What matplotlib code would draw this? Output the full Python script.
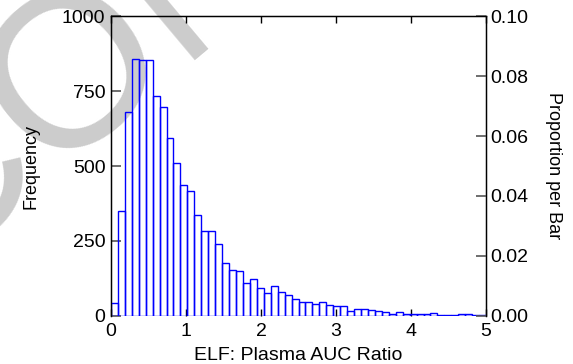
import matplotlib
matplotlib.use("Agg")
import matplotlib.pyplot as plt
import numpy as np
from matplotlib.ticker import FormatStrFormatter

plt.rcParams["font.family"] = ["Liberation Sans", "DejaVu Sans"]

# histogram counts, 54 equal bins spanning 0..5
counts = [44, 351, 681, 857, 853, 853, 733, 696, 594, 511,
          437, 418, 337, 282, 283, 241, 175, 152, 151, 111,
          123, 94, 75, 100, 81, 69, 57, 46, 47, 40,
          45, 35, 32, 32, 16, 24, 23, 19, 15, 13,
          8, 12, 8, 6, 7, 6, 10, 4, 4, 2,
          8, 7, 2, 3]
x_range = (0, 5)
n_total = 10000
x_ticks = [0, 1, 2, 3, 4, 5]
freq_ticks = [0, 250, 500, 750, 1000]
prop_ticks = [0.00, 0.02, 0.04, 0.06, 0.08, 0.10]

edges = np.linspace(x_range[0], x_range[1], len(counts) + 1)
width = edges[1] - edges[0]

fig = plt.figure(figsize=(5.73, 3.64), dpi=100)
fig.patch.set_facecolor("white")

# faint watermark behind the chart (cut by the figure edge, as in the source)
fig.text(0.135, 0.795, "CON", fontsize=158, color="#cccccc", rotation=40,
         ha="center", va="center", zorder=-10)

ax = fig.add_axes([0.1937, 0.1319, 0.6545, 0.8241])
ax.patch.set_alpha(0)
ax.bar(edges[:-1], counts, width=width, align="edge", facecolor="none",
       edgecolor="#0000ff", linewidth=1.0, zorder=3)

ax.set_xlim(*x_range)
ax.set_ylim(0, 1000)
ax.set_xticks(x_ticks)
ax.set_yticks(freq_ticks)
ax.tick_params(axis="x", direction="in", length=5, width=1, top=True,
               labelsize=14, pad=5, color="black")
ax.tick_params(axis="y", direction="in", length=7, width=1.2,
               labelsize=14, pad=4, color="#555555")
ax.spines["bottom"].set_visible(False)
for s in ("left", "top", "right"):
    ax.spines[s].set_linewidth(1.0)
ax.set_xlabel("ELF: Plasma AUC Ratio", fontsize=14, labelpad=5)
ax.set_ylabel("Frequency", fontsize=13, labelpad=16)

ax2 = ax.twinx()
ax2.set_ylim(0, 1000 / n_total)
ax2.set_yticks(prop_ticks)
ax2.yaxis.set_major_formatter(FormatStrFormatter("%.2f"))
ax2.tick_params(axis="y", direction="in", length=7, width=1.2,
                labelsize=14, pad=3, color="#555555")
ax2.spines["bottom"].set_visible(False)
ax2.set_ylabel("Proportion per Bar", fontsize=13, rotation=270, labelpad=24)

fig.savefig("out.png", dpi=100)
